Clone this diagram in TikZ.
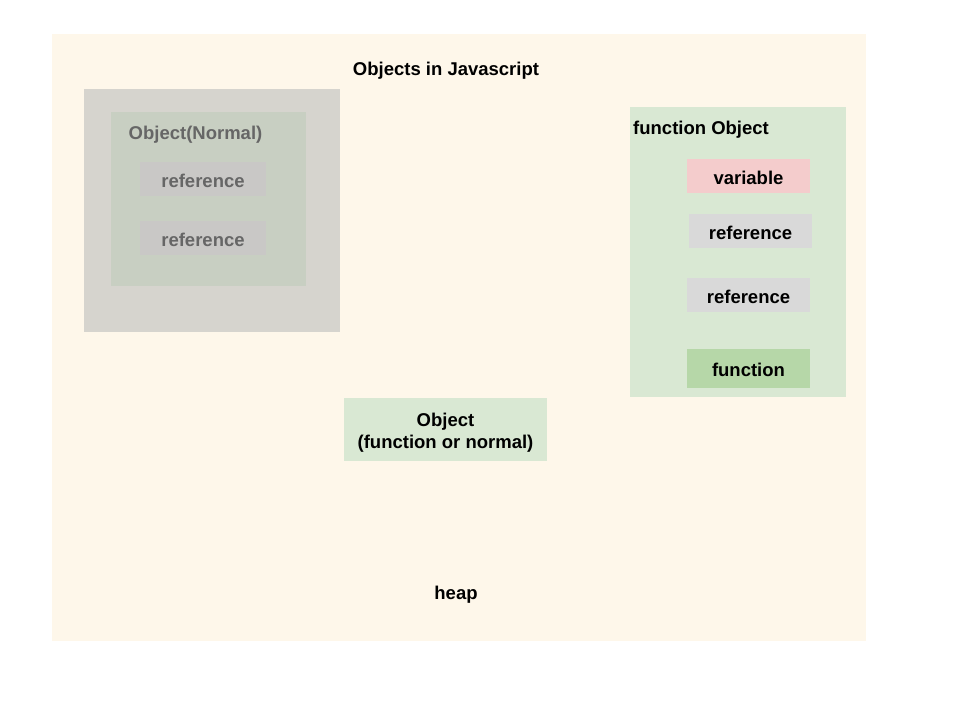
\documentclass[tikz,border=0pt]{standalone}
\usepackage{fontspec}
\setmainfont{Liberation Sans}
\definecolor{heapbg}{HTML}{FEF7EA}
\definecolor{greyouter}{HTML}{D6D4CE}
\definecolor{greyinner}{HTML}{C8CFC2}
\definecolor{greyref}{HTML}{C9C8C6}
\definecolor{greytext}{HTML}{666666}
\definecolor{fnobj}{HTML}{D9E8D3}
\definecolor{varbox}{HTML}{F4CCCC}
\definecolor{refbox}{HTML}{D9D9D9}
\definecolor{fnbox}{HTML}{B6D7A8}
\begin{document}
\begin{tikzpicture}[x=1pt,y=-1pt,
  lbl/.style={font=\fontsize{18.5}{22}\selectfont\bfseries, inner sep=0pt},
  boxn/.style={lbl, minimum width=123pt, minimum height=34pt, text height=16.5pt, text depth=0pt}]
\useasboundingbox (0,0) rectangle (960,720);
\fill[white] (0,0) rectangle (960,720);
% heap background
\fill[heapbg] (52,34) rectangle (866,641);
\node[lbl] (title) at (446,70.5) {Objects in Javascript};
\node[lbl] (heap) at (456,594.5) {heap};
% left grey object
\fill[greyouter] (84,89) rectangle (340,332);
\fill[greyinner] (111,112) rectangle (306,286);
\node[lbl, text=greytext, anchor=west] (normal) at (128.5,135) {Object(Normal)};
\node[boxn, fill=greyref, text=greytext, minimum width=126pt] (gref1) at (203,179) {reference};
\node[boxn, fill=greyref, text=greytext, minimum width=126pt] (gref2) at (203,238) {reference};
% function object
\fill[fnobj] (630,107) rectangle (846,397);
\node[lbl, anchor=west] (fobj) at (633,129.5) {function Object};
\node[boxn, fill=varbox] (var) at (748.5,176) {variable};
\node[boxn, fill=refbox] (ref1) at (750.5,231) {reference};
\node[boxn, fill=refbox] (ref2) at (748.5,295) {reference};
\node[boxn, fill=fnbox, minimum height=39pt] (func) at (748.5,368.5) {function};
% object (function or normal)
\node[lbl, fill=fnobj, minimum width=203pt, minimum height=63pt, align=center] (obj) at (445.5,429.5) {\raisebox{-3pt}[\height][\depth]{Object}\\\raisebox{-3pt}[\height][\depth]{(function or normal)}};
\end{tikzpicture}
\end{document}
